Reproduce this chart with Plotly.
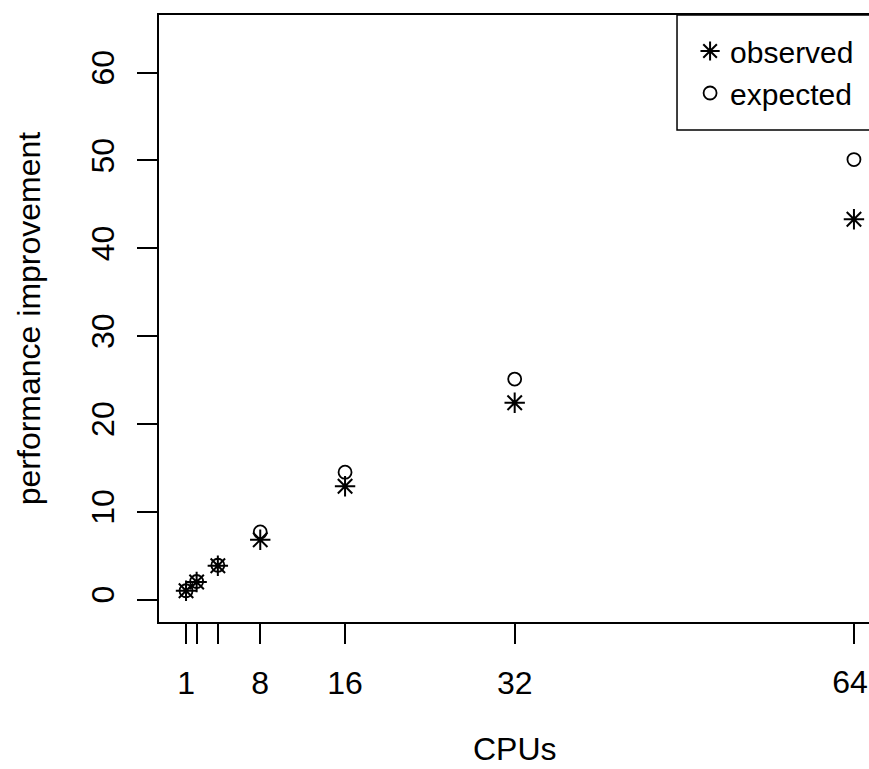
import plotly.graph_objects as go

cpus = [1, 2, 4, 8, 16, 32, 64]
observed = [1.0, 2.0, 3.85, 6.8, 12.9, 22.4, 43.3]
expected = [1.0, 2.05, 3.9, 7.7, 14.5, 25.1, 50.1]
x_tickvals = [1, 2, 4, 8, 16, 32, 64]
x_ticktext = ["1", "", "", "8", "16", "32", ""]
x_edge_tickvals = [64]
x_edge_ticktext = ["64"]
y_tickvals = [0, 10, 20, 30, 40, 50, 60]

FONT = "Liberation Sans, Arial, Helvetica, sans-serif"
FS = 32
LEG_FS = 30

W, H = 869, 769
L, T, B = 159, 15, 147
plot_h = H - T - B
X_RANGE = [-1.55, 65.42]

fig = go.Figure()
fig.add_trace(go.Scatter(
    x=cpus, y=observed, mode="markers", name="observed",
    marker=dict(symbol="asterisk-open", size=17, color="black",
                line=dict(color="black", width=2)),
))
# plotted against xaxis2, which has exactly the same range as xaxis
fig.add_trace(go.Scatter(
    x=cpus, y=expected, mode="markers", name="expected", xaxis="x2", yaxis="y",
    marker=dict(symbol="circle-open", size=13, color="black",
                line=dict(color="black", width=1.8)),
))

# legend frame (extends past the right edge like the reference)
fig.add_shape(type="rect", xref="paper", yref="paper",
              x0=0.7296, x1=1.03, y0=0.8106, y1=1.0,
              line=dict(color="black", width=1.5), fillcolor="rgba(0,0,0,0)")

# x-axis title placed below the tick labels
fig.add_annotation(
    text="CPUs", xref="paper", yref="paper",
    x=(514.5 - L) / (W - L), y=-(768 - (H - B)) / plot_h,
    xanchor="center", yanchor="bottom", showarrow=False, borderpad=0,
    font=dict(family=FONT, size=FS, color="black"),
)

fig.update_layout(
    width=W, height=H,
    margin=dict(l=L, r=0, t=T, b=B, autoexpand=False),
    paper_bgcolor="white", plot_bgcolor="white",
    font=dict(family=FONT, size=FS, color="black"),
    showlegend=True,
    legend=dict(
        x=0.748, y=0.9835, xanchor="left", yanchor="top",
        borderwidth=0, bgcolor="rgba(0,0,0,0)",
        font=dict(family=FONT, size=LEG_FS, color="black"),
        itemsizing="trace",
    ),
    xaxis=dict(
        range=X_RANGE, autorange=False,
        tickmode="array", tickvals=x_tickvals, ticktext=x_ticktext,
        ticks="outside", ticklen=20, tickwidth=2, tickcolor="black",
        showline=True, linecolor="black", linewidth=2, mirror=True,
        showgrid=False, zeroline=False,
        tickfont=dict(family=FONT, size=FS, color="black"),
        ticklabelstandoff=12, ticklabeloverflow="allow",
        automargin=False,
    ),
    # same scale as xaxis; only carries the edge label "64", nudged to stay inside the page
    xaxis2=dict(
        range=X_RANGE, autorange=False, overlaying="x", anchor="y", side="bottom",
        tickmode="array", tickvals=x_edge_tickvals, ticktext=x_edge_ticktext,
        ticks="outside", ticklen=20, tickwidth=2, tickcolor="black",
        showline=False, showgrid=False, zeroline=False,
        tickfont=dict(family=FONT, size=FS, color="black"),
        ticklabelstandoff=12, ticklabelshift=-4, ticklabeloverflow="allow",
        automargin=False,
    ),
    yaxis=dict(
        range=[-2.56, 66.56], autorange=False,
        tickmode="array", tickvals=y_tickvals,
        ticks="outside", ticklen=20, tickwidth=2, tickcolor="black",
        showline=True, linecolor="black", linewidth=2, mirror=False,
        showgrid=False, zeroline=False, tickangle=-90,
        tickfont=dict(family=FONT, size=FS, color="black"),
        ticklabelstandoff=10, ticklabeloverflow="allow",
        title=dict(text="performance improvement", font=dict(family=FONT, size=FS, color="black"), standoff=35),
        automargin=False,
    ),
)

fig.write_html(
    "out.html",
    config={"displayModeBar": False},
    post_script="document.body.style.margin='0';document.body.style.overflow='hidden';",
)
